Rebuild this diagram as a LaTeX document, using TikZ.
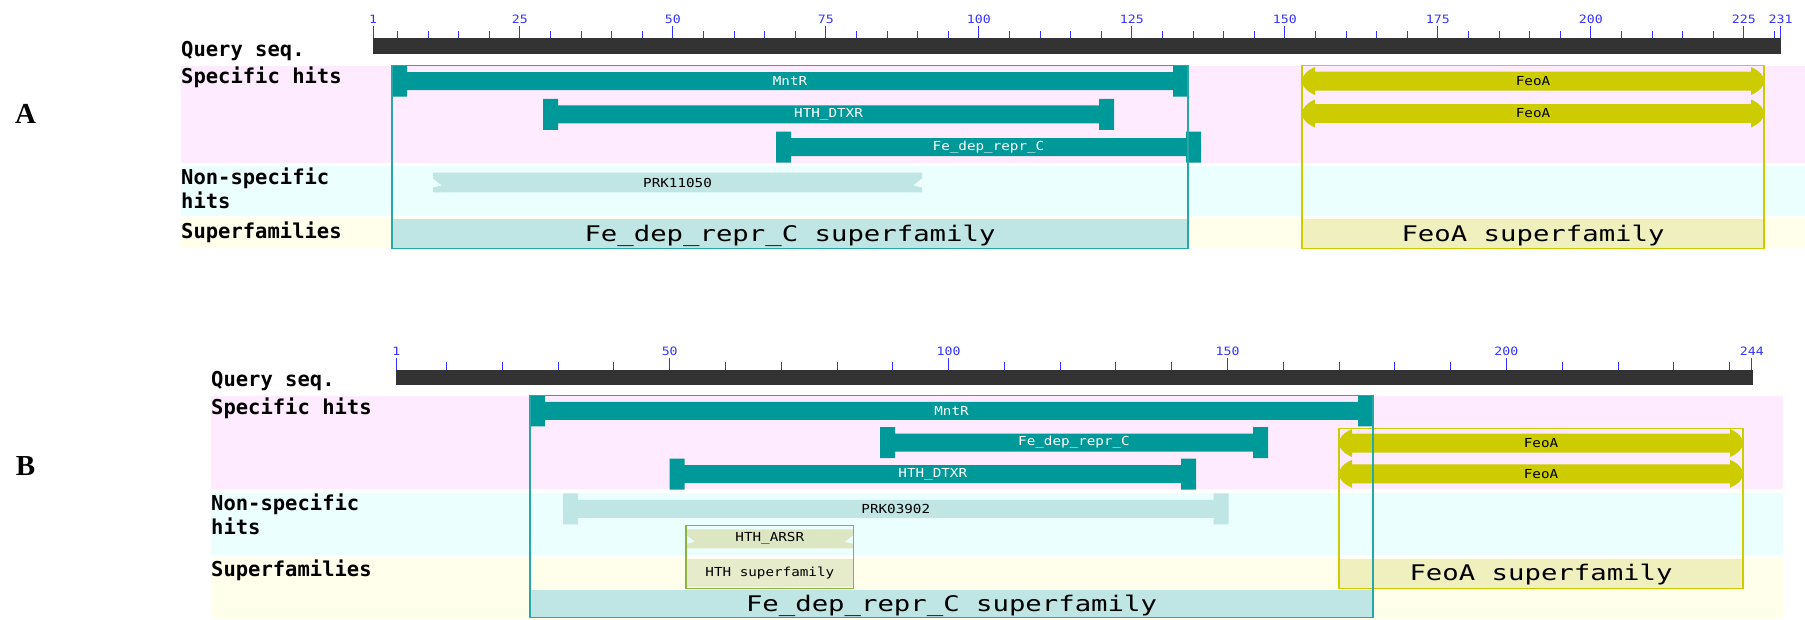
\documentclass[tikz,border=0pt]{standalone}
\usepackage{fontspec}
\setmainfont{Liberation Serif}
\newfontfamily\domfont{DejaVu Sans Mono}
\newfontfamily\sflabelfont[FakeStretch=1.27]{DejaVu Sans Mono}
\newfontfamily\hitlabelfont[FakeStretch=1.15]{DejaVu Sans Mono}
\usepackage{tikz}

\definecolor{hitteal}{HTML}{009999}
\definecolor{paleteal}{HTML}{BFE5E5}
\definecolor{feoa}{HTML}{CCCC00}
\definecolor{feoasf}{HTML}{F0F0BF}
\definecolor{pinkband}{HTML}{FFEBFF}
\definecolor{cyanband}{HTML}{EBFFFF}
\definecolor{yellband}{HTML}{FFFFEB}
\definecolor{hthgreen}{HTML}{8CB43C}
\definecolor{hthbar}{HTML}{DCE6C3}
\definecolor{hthsf}{HTML}{E6ECCB}
\definecolor{rulerblue}{HTML}{3333FF}
\definecolor{querygray}{HTML}{333333}

% name, x1, x2, y centre, fill, text colour, label
\newcommand{\capbar}[7]{%
  \fill[#5] (#2,#4-15.5) -- (#2+15,#4-15.5) -- (#2+15,#4-9) -- (#3-15,#4-9)
    -- (#3-15,#4-15.5) -- (#3,#4-15.5) -- (#3,#4+15.5) -- (#3-15,#4+15.5)
    -- (#3-15,#4+9) -- (#2+15,#4+9) -- (#2+15,#4+15.5) -- (#2,#4+15.5) -- cycle;
  \node[hitlbl, text=#6] (#1) at ({(#2+#3)/2},#4) {#7};}

% name, x1, x2, y centre
\newcommand{\feoabar}[4]{%
  \fill[feoa] (#2+13,#4-14) -- (#2+13,#4-9.5) -- (#3-13,#4-9.5) -- (#3-13,#4-14)
    .. controls (#3-4,#4-10) and (#3,#4-5) .. (#3,#4)
    .. controls (#3,#4+5) and (#3-4,#4+10) .. (#3-13,#4+14)
    -- (#3-13,#4+9.5) -- (#2+13,#4+9.5) -- (#2+13,#4+14)
    .. controls (#2+4,#4+10) and (#2,#4+5) .. (#2,#4)
    .. controls (#2,#4-5) and (#2+4,#4-10) .. cycle;
  \node[hitlbl, text=black] (#1) at ({(#2+#3)/2},#4) {FeoA};}

% name, x1, x2, y centre, half height, fill, label
\newcommand{\notchbar}[7]{%
  \fill[#6] (#2,#4-#5) -- (#3,#4-#5) -- (#3,#4-4) -- (#3-9,#4+3) -- (#3,#4+5)
    -- (#3,#4+#5) -- (#2,#4+#5) -- (#2,#4+5) -- (#2+9,#4+3) -- (#2,#4-4) -- cycle;
  \node[hitlbl, text=black] (#1) at ({(#2+#3)/2},#4) {#7};}

\begin{document}
\begin{tikzpicture}[
    x=1pt, y=-1pt,
    rowlbl/.style={font=\domfont\bfseries\fontsize{20.5}{24}\selectfont,
        anchor=base west, inner sep=0pt},
    hitlbl/.style={font=\hitlabelfont\fontsize{12.4}{14}\selectfont, inner sep=0pt},
    sflbl/.style={font=\sflabelfont\fontsize{21.5}{24}\selectfont,
        anchor=base, inner sep=0pt},
    rulelbl/.style={font=\hitlabelfont\fontsize{11.5}{12}\selectfont,
        text=rulerblue, anchor=base, inner sep=0pt},
    rulertick/.style={rulerblue, line width=1pt},
    sfbox/.style={line width=1.5pt},
    panel/.style={font=\bfseries\fontsize{29}{30}\selectfont,
        anchor=base, inner sep=0pt}
]
\useasboundingbox (0,0) rectangle (1805,619);

\node[panel] (pa) at (25.5,123) {A};
\node[panel] (pb) at (25.5,475) {B};

% panel A
\fill[pinkband] (181,65.7) rectangle (1805,162.7);
\fill[cyanband] (181,166) rectangle (1805,216);
\fill[yellband] (181,218.3) rectangle (1805,248.3);

\foreach \n in {5,10,...,230}
    \draw[rulertick] ({373+(\n-1)*6.12},31) -- ({373+(\n-1)*6.12},38);
\foreach \n in {1,25,50,75,100,125,150,175,200,225,231} {
    \draw[rulertick] ({373+(\n-1)*6.12},26) -- ({373+(\n-1)*6.12},38);
    \node[rulelbl] (ra\n) at ({373+(\n-1)*6.12},23.3) {\n};
}
\fill[querygray] (373,38) rectangle (1781,54);

\node[rowlbl] (qla) at (181,56) {Query seq.};
\node[rowlbl] (spa) at (181,83.3) {Specific hits};
\node[rowlbl] (nsa) at (181,184.5) {Non-specific};
\node[rowlbl] (nsa2) at (181,208.5) {hits};
\node[rowlbl] (sfa) at (181,238.7) {Superfamilies};

\fill[paleteal] (392,219) rectangle (1188,248.3);
\fill[feoasf] (1302,219) rectangle (1764,248.3);
\node[sflbl] (fedepsfa) at (790,241.3) {Fe\_dep\_repr\_C superfamily};
\node[sflbl] (feoasfa) at (1533,241.3) {FeoA superfamily};

\capbar{mntra}{392}{1188}{81}{hitteal}{white}{MntR}
\capbar{dtxra}{543}{1114}{114.3}{hitteal}{white}{HTH\_DTXR}
\capbar{fedepa}{776}{1201}{147.2}{hitteal}{white}{Fe\_dep\_repr\_C}
\feoabar{feoaa1}{1302}{1764}{81}
\feoabar{feoaa2}{1302}{1764}{113.5}
\notchbar{prka}{433}{922}{182.5}{9.8}{paleteal}{PRK11050}

\draw[sfbox, feoa] (1302,65.7) rectangle (1764,248.3);
\draw[sfbox, hitteal!85] (392,65.7) rectangle (1188,248.3);

% panel B
\fill[pinkband] (211,395.7) rectangle (1782.6,489);
\fill[cyanband] (211,493.3) rectangle (1782.6,555);
\fill[yellband] (211,558.3) rectangle (1782.6,619);

\foreach \n in {10,20,...,240}
    \draw[rulertick] ({396.4+(\n-1)*5.578},362.3) -- ({396.4+(\n-1)*5.578},370);
\foreach \n in {1,50,100,150,200,244} {
    \draw[rulertick] ({396.4+(\n-1)*5.578},357.7) -- ({396.4+(\n-1)*5.578},370);
    \node[rulelbl] (rb\n) at ({396.4+(\n-1)*5.578},355) {\n};
}
\fill[querygray] (396.4,370) rectangle (1752.5,385);

\node[rowlbl] (qlb) at (211,386.7) {Query seq.};
\node[rowlbl] (spb) at (211,414) {Specific hits};
\node[rowlbl] (nsb) at (211,510.7) {Non-specific};
\node[rowlbl] (nsb2) at (211,534) {hits};
\node[rowlbl] (sfb) at (211,576) {Superfamilies};

\fill[paleteal] (530,590) rectangle (1373,617.5);
\fill[feoasf] (1339,559.3) rectangle (1743,588.3);
\fill[hthsf] (686,559.3) rectangle (853.5,587.3);
\node[sflbl] (fedepsfb) at (951.5,611) {Fe\_dep\_repr\_C superfamily};
\node[sflbl] (feoasfb) at (1541,580.5) {FeoA superfamily};
\node[hitlbl] (hthsfb) at (769.8,573.3) {HTH superfamily};

\capbar{mntrb}{530}{1373}{410.8}{hitteal}{white}{MntR}
\capbar{fedepb}{880}{1268}{442.7}{hitteal}{white}{Fe\_dep\_repr\_C}
\capbar{dtxrb}{669.6}{1196}{474.2}{hitteal}{white}{HTH\_DTXR}
\feoabar{feoab1}{1339}{1743}{443}
\feoabar{feoab2}{1339}{1743}{473.8}
\capbar{prkb}{563}{1228.5}{508.8}{paleteal}{black}{PRK03902}
\notchbar{arsrb}{686}{853.5}{538.8}{9.5}{hthbar}{HTH\_ARSR}

\draw[sfbox, hthgreen] (686,525.7) rectangle (853.5,588.3);
\draw[sfbox, feoa] (1339,428.3) rectangle (1743,588.3);
\draw[sfbox, hitteal!85] (530,395.7) rectangle (1373,617.5);

\end{tikzpicture}
\end{document}
